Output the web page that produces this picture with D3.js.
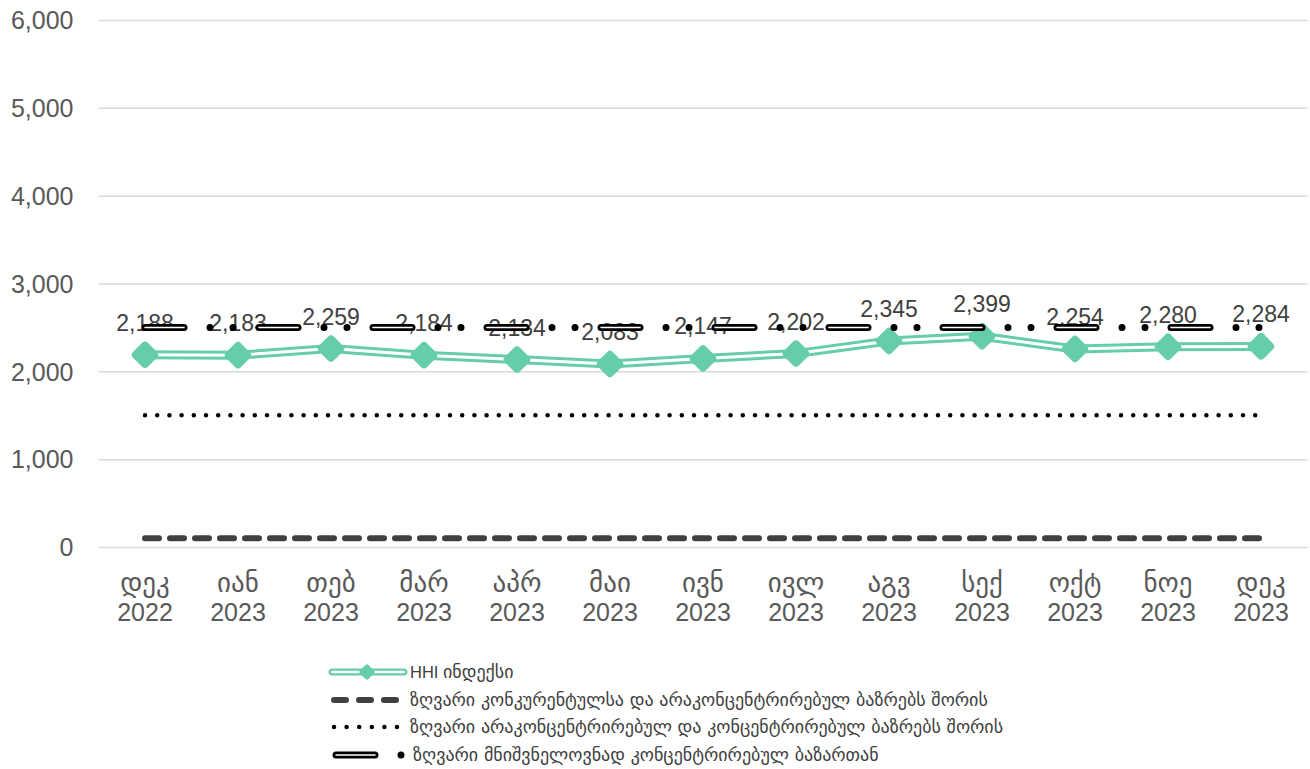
<!DOCTYPE html>
<html>
<head>
<meta charset="utf-8">
<script src="https://cdn.jsdelivr.net/npm/d3@7"></script>
<style>
  html, body { margin: 0; padding: 0; background: #fff; }
  svg { display: block; }
  text { font-family: "Liberation Sans", Arial, "DejaVu Sans", sans-serif; }
  .geo { font-family: "DejaVu Sans", sans-serif; }
  .latin { font-family: "Liberation Sans", Arial, sans-serif; }
</style>
</head>
<body>
<svg id="chart" width="1310" height="769"></svg>
<script>
// Monthly HHI values, Dec 2022 – Dec 2023
const months = ["დეკ", "იან", "თებ", "მარ", "აპრ", "მაი", "ივნ", "ივლ", "აგვ", "სექ", "ოქტ", "ნოე", "დეკ"];
const years = ["2022", "2023", "2023", "2023", "2023", "2023", "2023", "2023", "2023", "2023", "2023", "2023", "2023"];
const hhi = [2188, 2183, 2259, 2184, 2134, 2083, 2147, 2202, 2345, 2399, 2254, 2280, 2284];

// Concentration thresholds
const thresholdLow = 100;    // competitive / unconcentrated
const thresholdMid = 1500;   // unconcentrated / concentrated
const thresholdHigh = 2500;  // highly concentrated

const yTicks = [0, 1000, 2000, 3000, 4000, 5000, 6000];

const legendLabels = [
  "ინდექსი",
  "ზღვარი კონკურენტულსა და არაკონცენტრირებულ ბაზრებს შორის",
  "ზღვარი არაკონცენტრირებულ და კონცენტრირებულ ბაზრებს შორის",
  "ზღვარი მნიშვნელოვნად კონცენტრირებულ ბაზართან"
];

const teal = "#66CDAA";
const svg = d3.select("#chart");

const idx = d3.range(months.length);
const x = d3.scaleBand().domain(idx).range([98.5, 1307.5]);
const cx = i => x(i) + x.bandwidth() / 2;
const y = d3.scaleLinear().domain([0, 6000]).range([547, 20]);

// Gridlines and y-axis labels
const yAxis = d3.axisLeft(y).tickValues(yTicks).tickFormat(d3.format(",")).tickSize(-(1307.5 - 98.5)).tickPadding(25);
const gy = svg.append("g").attr("transform", "translate(98.5,0)").call(yAxis);
gy.select(".domain").remove();
gy.selectAll(".tick line").attr("stroke", "#d9d9d9").attr("stroke-width", 1.5);
gy.selectAll(".tick text").attr("fill", "#595959").attr("font-size", 25).attr("dy", "0.35em").attr("x", -25);

// X-axis two-line labels
const gx = svg.append("g");
idx.forEach(i => {
  gx.append("text").attr("class", "geo").attr("x", cx(i)).attr("y", 592)
    .attr("text-anchor", "middle").attr("font-size", 27).attr("fill", "#595959").text(months[i]);
  gx.append("text").attr("x", cx(i)).attr("y", 621)
    .attr("text-anchor", "middle").attr("font-size", 25).attr("fill", "#595959").text(years[i]);
});

// HHI series: double line (teal with white core)
const line = d3.line().x((d, i) => cx(i)).y(d => y(d));
svg.append("path").datum(hhi).attr("d", line).attr("fill", "none")
  .attr("stroke", teal).attr("stroke-width", 9).attr("stroke-linejoin", "round");
svg.append("path").datum(hhi).attr("d", line).attr("fill", "none")
  .attr("stroke", "#fff").attr("stroke-width", 3).attr("stroke-linejoin", "round");

// Diamond markers
const ms = 21;
svg.append("g").selectAll("rect").data(hhi).join("rect")
  .attr("x", -ms / 2).attr("y", -ms / 2).attr("width", ms).attr("height", ms)
  .attr("rx", 4).attr("ry", 4).attr("fill", teal)
  .attr("transform", (d, i) => `translate(${cx(i)},${y(d)}) rotate(45)`);

// Value labels
svg.append("g").selectAll("text").data(hhi).join("text")
  .attr("x", (d, i) => cx(i)).attr("y", d => y(d) - 24)
  .attr("text-anchor", "middle").attr("font-size", 23).attr("fill", "#404040")
  .text(d3.format(","));

// Threshold lines
function constLine(v) { return months.map(() => v); }

svg.append("path").datum(constLine(thresholdLow)).attr("d", line).attr("fill", "none")
  .attr("stroke", "#404040").attr("stroke-width", 6).attr("stroke-linecap", "round")
  .attr("stroke-dasharray", "14 11");

svg.append("path").datum(constLine(thresholdMid)).attr("d", line).attr("fill", "none")
  .attr("stroke", "#000").attr("stroke-width", 4.5).attr("stroke-linecap", "round")
  .attr("stroke-dasharray", "0 12.2");

const ddDash = "39 26 0 23 0 26";
const ddCore = "39 75";
svg.append("path").datum(constLine(thresholdHigh)).attr("d", line).attr("fill", "none")
  .attr("stroke", "#000").attr("stroke-width", 7).attr("stroke-linecap", "round")
  .attr("stroke-dasharray", ddDash);
svg.append("path").datum(constLine(thresholdHigh)).attr("d", line).attr("fill", "none")
  .attr("stroke", "#fff").attr("stroke-width", 1.5).attr("stroke-linecap", "round")
  .attr("stroke-dasharray", ddCore);

// Legend
const lg = svg.append("g");
const rowY = [672, 700, 727, 755];
const lx0 = 332, lx1 = 404;

// HHI entry
lg.append("line").attr("x1", lx0).attr("x2", lx1).attr("y1", rowY[0]).attr("y2", rowY[0])
  .attr("stroke", teal).attr("stroke-width", 7).attr("stroke-linecap", "round");
lg.append("line").attr("x1", lx0).attr("x2", lx1).attr("y1", rowY[0]).attr("y2", rowY[0])
  .attr("stroke", "#fff").attr("stroke-width", 2.5).attr("stroke-linecap", "round");
lg.append("rect").attr("x", -6).attr("y", -6).attr("width", 12).attr("height", 12).attr("rx", 2)
  .attr("fill", teal).attr("transform", `translate(367,${rowY[0]}) rotate(45)`);

// Dashed entry
lg.append("line").attr("x1", 334).attr("x2", 400).attr("y1", rowY[1]).attr("y2", rowY[1])
  .attr("stroke", "#404040").attr("stroke-width", 6).attr("stroke-linecap", "round")
  .attr("stroke-dasharray", "12 13");

// Dotted entry
lg.append("line").attr("x1", 334).attr("x2", 400).attr("y1", rowY[2]).attr("y2", rowY[2])
  .attr("stroke", "#000").attr("stroke-width", 4.5).attr("stroke-linecap", "round")
  .attr("stroke-dasharray", "0 12.6");

// Double dash-dot entry
lg.append("line").attr("x1", 336).attr("x2", 404).attr("y1", rowY[3]).attr("y2", rowY[3])
  .attr("stroke", "#000").attr("stroke-width", 7).attr("stroke-linecap", "round")
  .attr("stroke-dasharray", "39 26 0 60");
lg.append("line").attr("x1", 336).attr("x2", 404).attr("y1", rowY[3]).attr("y2", rowY[3])
  .attr("stroke", "#fff").attr("stroke-width", 1.5).attr("stroke-linecap", "round")
  .attr("stroke-dasharray", "39 75");

legendLabels.forEach((t, i) => {
  const tx = lg.append("text").attr("class", "geo").attr("x", i === 3 ? 413 : 410).attr("y", rowY[i])
    .attr("dy", "0.35em").attr("font-size", 18).attr("fill", "#404040");
  if (i === 0) {
    tx.append("tspan").attr("class", "latin").attr("font-size", 16.5).text("HHI ");
  }
  tx.append("tspan").text(t);
});
</script>
</body>
</html>
